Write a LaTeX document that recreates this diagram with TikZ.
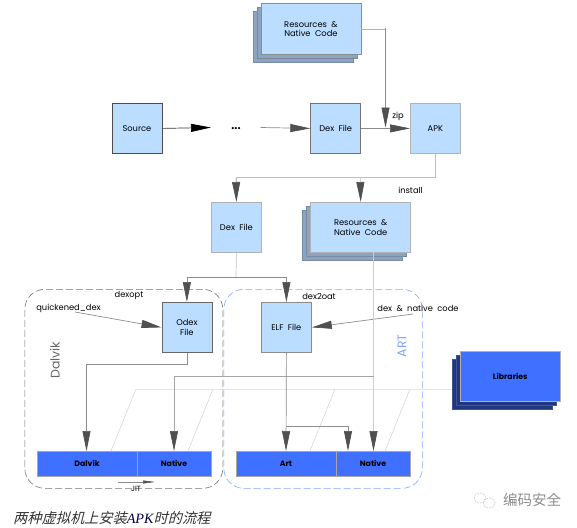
\documentclass[tikz,border=0pt]{standalone}
\usepackage{fontspec}
\setmainfont{Poppins}
\newfontfamily\cjk[FakeSlant=0.25]{Noto Sans CJK SC}
\newfontfamily\cjkup{Noto Sans CJK SC}
\newfontfamily\serifit{Liberation Serif}
\usetikzlibrary{arrows.meta,calc}
\definecolor{lblue}{HTML}{BBDDFF}
\definecolor{sback}{HTML}{8CA4C0}
\definecolor{bblue}{HTML}{4070FF}
\definecolor{dblue}{HTML}{20377F}
\definecolor{agray}{HTML}{505050}
\definecolor{artblue}{HTML}{7FA5FF}
\tikzset{
  every node/.style={font=\fontsize{8.3}{9.4}\selectfont\color{black}},
  box/.style={draw=#1,line width=0.8pt,fill=lblue,minimum width=50pt,minimum height=50pt,inner sep=0,align=center,anchor=north west},
  box/.default={black!45},
  widebox/.style={box,minimum width=100pt},
  layer/.style={draw=sback!85!black,line width=0.5pt,fill=sback,minimum width=100pt,minimum height=50pt,inner sep=0,anchor=north west},
  dlayer/.style={draw=dblue!85!white,line width=0.4pt,fill=dblue,minimum width=100pt,minimum height=50pt,inner sep=0,anchor=north west},
  bar/.style={draw=black!35,line width=0.5pt,fill=bblue,minimum height=25pt,inner sep=0,anchor=north west,font=\fontsize{7.8}{9}\selectfont\bfseries\color{black}},
  conn/.style={draw=black!45,line width=0.7pt},
  lconn/.style={draw=black!25,line width=0.7pt},
  faint/.style={draw=black!18,line width=0.5pt},
  big/.style={-{Triangle[length=20pt,width=8pt,fill=agray,color=agray]}},
  lbl/.style={inner sep=0},
}
\begin{document}
\begin{tikzpicture}[x=1pt,y=-1pt]
\useasboundingbox (0,0) rectangle (577,527);
% faint lines behind
\coordinate (fa) at (136,389);
\coordinate (fb) at (213,389);
\coordinate (fc) at (335,389);
\coordinate (fd) at (410,389);
\coordinate (ga) at (111,451);
\coordinate (gb) at (188,451);
\coordinate (gc) at (310,451);
\coordinate (gd) at (385,451);
\draw[faint] (fa) -- (ga);
\draw[faint] (fb) -- (gb);
\draw[faint] (fc) -- (gc);
\draw[faint] (fd) -- (gd);
\draw[draw=black!10,line width=1pt] (fa) -- (460,389);
% regions
\node[draw=black!55,dash pattern=on 7pt off 3pt,line width=0.6pt,rounded corners=20pt,minimum width=198pt,minimum height=199pt,inner sep=0,anchor=north west] (dalvikzone) at (24.5,289) {};
\node[draw=artblue,dash pattern=on 7pt off 3pt,line width=0.6pt,rounded corners=20pt,minimum width=198.5pt,minimum height=199pt,inner sep=0,anchor=north west] (artzone) at (223.5,289) {};
% stacks
\node[layer] (r1c) at (252.5,11.5) {};
\node[layer] (r1b) at (256.5,7.5) {};
\node[layer] (r2c) at (302.3,210) {};
\node[layer] (r2b) at (306.3,206) {};
\node[dlayer] (libc) at (452,359) {};
\node[dlayer] (libb) at (456,355) {};
% boxes
\node[widebox] (res1) at (260.5,3.5) {Resources \ \&\\Native \ Code};
\node[box=black!70] (source) at (111.5,103) {Source};
\node[lbl,font=\fontsize{11}{11}\selectfont\bfseries] (dots) at (236,129) {...};
\node[box=black!55] (dex1) at (310.3,103) {Dex \ File};
\node[box=black!30] (apk) at (410,103) {APK};
\node[box=black!30] (dex2) at (211,202) {Dex \ File};
\node[widebox,draw=black!30] (res2) at (310.3,202) {Resources \ \&\\Native \ Code};
\node[box=black!60] (odex) at (161.5,302) {Odex\\File};
\node[box=black!45] (elf) at (261,302) {ELF \ File};
\node[bar,minimum width=99.5pt] (bd) at (37,451) {Dalvik};
\node[bar,minimum width=74.5pt,draw=black!35] (bn) at (136.5,451) {Native};
\node[bar,minimum width=99.5pt] (ba) at (236,451) {Art};
\node[bar,minimum width=74.5pt] (bn2) at (335.5,451) {Native};
\node[dlayer,fill=bblue,draw=black!30,font=\fontsize{7.8}{9}\selectfont\bfseries\color{black}] (lib) at (460,351) {Libraries};
% labels
\node[lbl] (zip) at (398,116) {zip};
\node[lbl] (install) at (410.5,190) {install};
\node[lbl] (dexopt) at (129,296) {dexopt};
\node[lbl] (dex2oat) at (319,296) {dex2oat};
\node[lbl] (qd) at (68.5,308) {quickened\_dex};
\node[lbl] (dnc) at (418,308) {dex \ \& \ native \ code};
\node[lbl,rotate=90,font=\fontsize{12.5}{12}\selectfont,text=black!60] (dalvikl) at (55,360) {Dalvik};
\node[lbl,rotate=90,font=\fontsize{12.5}{12}\selectfont,text=artblue] (artl) at (402,346) {ART};
\node[lbl,font=\fontsize{7.5}{7}\selectfont] (jit) at (136,488.5) {JIT};
% connectors
\draw[draw=black!80,line width=0.7pt,-{Triangle[length=20pt,width=8pt,fill=black,color=black]}] (source.east) -- (211,127.5);
\coordinate (dotsout) at (260.5,127.5);
\draw[conn,big] (dotsout) -- (dex1.west);
\coordinate (zipin) at (385.5,127.5);
\draw[conn,big] (dex1.east) -- (apk.west);
\draw[lconn,draw=black!30] (res1.east) -| (385.5,60);
\draw[conn,big] (385.5,28) -- (zipin);
\coordinate (inst) at (360.3,177.5);
\draw[lconn] (apk.south) |- (inst);
\draw[lconn] (inst) -| ($(dex2.north)+(0,-14)$);
\draw[lconn,big] (236,177.5) -- (dex2.north);
\draw[lconn,big] (inst) -- (res2.north);
\coordinate (split) at (236,277);
\draw[lconn] (dex2.south) -- (split);
\draw[conn,big] (split) -| (odex.north);
\draw[conn,big] (split) -| (elf.north);
\draw[conn,big] (75,312) -- (odex.west);
\draw[conn,big] (413,314) -- (elf.east);
\draw[conn,big] (odex.south) |- (86.5,364.5) -- (86.5,451);
\draw[lconn,draw=black!20,big] (373.5,252) -- (373.5,451);
\draw[conn,draw=black!35,big] (373.5,376.5) -| (174,451);
\draw[conn,big] (elf.south) -- (ba.north);
\draw[conn] (285.5,426) -| (348,432);
\draw[conn,big] (348,426) -- (348,451);
\draw[conn,line width=0.5pt,-{Triangle[length=12pt,width=3pt,fill=agray,color=agray]}] (118,482) -- (155,482);
% caption
\node[lbl,anchor=west,font=\fontsize{14.2}{15}\selectfont,text=black!80] (cap) at (13,518.5) {\cjk 两种虚拟机上安装\textcolor{black!70!blue}{\serifit\itshape APK}时的流程};
% watermark
\node[lbl,anchor=west,font=\fontsize{14.5}{15}\selectfont,text=black!45] (wm) at (503,500) {\cjkup 编码安全};
\draw[black!35,densely dotted,line width=0.6pt] (480,498) ellipse (6pt and 5pt);
\draw[black!35,densely dotted,line width=0.6pt] (489,503) ellipse (6pt and 5pt);
\end{tikzpicture}
\end{document}
